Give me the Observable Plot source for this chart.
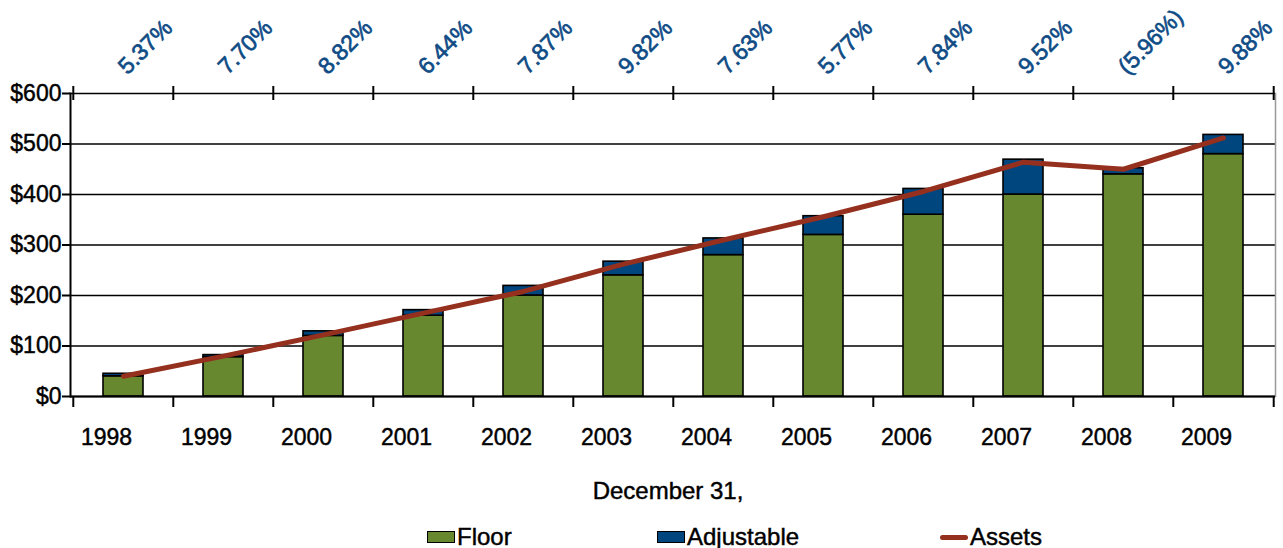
<!DOCTYPE html>
<html>
<head>
<meta charset="utf-8">
<script src="https://cdn.jsdelivr.net/npm/d3@7"></script>
<script src="https://cdn.jsdelivr.net/npm/@observablehq/plot@0.6"></script>
<style>
  html, body { margin: 0; padding: 0; background: #fff; }
  #wrap { position: relative; width: 1283px; height: 548px; font-family: "Liberation Sans", Arial, Helvetica, sans-serif; }
  #chart svg text { stroke: #000; stroke-width: 0.45px; paint-order: stroke; }
  #chart svg g.ret text { stroke: #0f4c86; stroke-width: 0.7px; }
  #xlabel { position: absolute; left: 0; width: 1336px; top: 477px; text-align: center; font-size: 24px; color: #000; -webkit-text-stroke: 0.45px #000; }
  .leg { position: absolute; top: 523px; font-size: 24px; color: #000; display: flex; align-items: center; -webkit-text-stroke: 0.45px #000; }
  .sw { display: inline-block; width: 26px; height: 10px; border: 1.5px solid #000; margin-right: 2px; }
  .ln { display: inline-block; width: 28px; height: 5px; border-radius: 3px; margin-right: 2px; }
</style>
</head>
<body>
<div id="wrap">
  <div id="chart"></div>
  <div id="xlabel">December 31,</div>
  <div id="legend"></div>
</div>
<script>
const years = ["1998","1999","2000","2001","2002","2003","2004","2005","2006","2007","2008","2009"];
const floorVals = [40, 78, 120, 160, 200, 240, 280, 320, 360, 400, 440, 480];
const adjustableVals = [5, 4, 9, 11, 19, 27, 33, 37, 51, 69, 12, 38];
const assetsVals = [40, 80, 122, 165, 208, 262, 310, 356, 406, 464, 450, 512];
const returnLabels = ["5.37%","7.70%","8.82%","6.44%","7.87%","9.82%","7.63%","5.77%","7.84%","9.52%","(5.96%)","9.88%"];
const yTicks = [0, 100, 200, 300, 400, 500, 600];
const seriesNames = ["Floor", "Adjustable"];
const seriesColors = ["#68882f", "#00467e"];
const lineColor = "#952f1e";
const retColor = "#0f4c86";

const rows = [
  ...years.map((y, i) => ({year: y, series: "Floor", value: floorVals[i]})),
  ...years.map((y, i) => ({year: y, series: "Adjustable", value: adjustableVals[i]}))
];
const assets = years.map((y, i) => ({year: y, value: assetsVals[i]}));
const rets = years.map((y, i) => ({year: y, label: returnLabels[i]}));

const W = 1283, mL = 70, mR = 8;
const step = (W - mL - mR) / years.length;
const font = "Liberation Sans, Arial, Helvetica, sans-serif";

const chart = Plot.plot({
  width: W,
  height: 470,
  marginLeft: mL,
  marginRight: mR,
  marginTop: 93,
  marginBottom: 74,
  style: {fontFamily: font, fontSize: "23px", color: "#000", background: "#fff"},
  x: {domain: years, paddingInner: 0.6, paddingOuter: 0.3, label: null},
  y: {domain: [0, 600], label: null},
  color: {domain: seriesNames, range: seriesColors},
  marks: [
    Plot.gridY(yTicks, {stroke: "#000", strokeOpacity: 1, strokeWidth: 1.6}),
    Plot.frame({anchor: "right", stroke: "#999", strokeWidth: 1.5}),
    Plot.barY(rows, {x: "year", y: "value", fill: "series", stroke: "#000", strokeWidth: 1.6}),
    Plot.line(assets, {x: "year", y: "value", stroke: lineColor, strokeWidth: 5, strokeLinecap: "round", strokeLinejoin: "round"}),
    Plot.ruleY([0], {stroke: "#000", strokeWidth: 2}),
    Plot.frame({anchor: "left", stroke: "#000", strokeWidth: 2}),
    // boundary ticks (bottom)
    Plot.ruleX(years, {x: d => d, y1: 0, y2: 0, dx: -step / 2, insetBottom: -11, stroke: "#000", strokeWidth: 2}),
    Plot.ruleX(years.slice(-1), {x: d => d, y1: 0, y2: 0, dx: step / 2, insetBottom: -11, stroke: "#000", strokeWidth: 2}),
    // boundary ticks (top)
    Plot.ruleX(years, {x: d => d, y1: 600, y2: 600, dx: -step / 2, insetTop: -7, insetBottom: -7, stroke: "#000", strokeWidth: 2}),
    Plot.ruleX(years.slice(-1), {x: d => d, y1: 600, y2: 600, dx: step / 2, insetTop: -7, insetBottom: -7, stroke: "#000", strokeWidth: 2}),
    Plot.axisY(yTicks, {tickFormat: d => "$" + d, tickSize: 8, tickPadding: 1, stroke: "#000", strokeWidth: 2, fontSize: 23, fill: "#000"}),
    Plot.axisX({tickSize: 0, tickPadding: 32, dx: -17, fontSize: 23, fill: "#000"}),
    Plot.text(rets, {x: "year", y: () => 600, text: "label", rotate: -45, textAnchor: "start", lineAnchor: "bottom", dx: 4, dy: -18, fill: retColor, fontSize: 23, className: "ret"})
  ]
});
document.getElementById("chart").appendChild(chart);

const legendItems = [
  {name: "Floor", kind: "rect", color: seriesColors[0], left: 427},
  {name: "Adjustable", kind: "rect", color: seriesColors[1], left: 657},
  {name: "Assets", kind: "line", color: lineColor, left: 940}
];
const lg = document.getElementById("legend");
for (const it of legendItems) {
  const d = document.createElement("div");
  d.className = "leg";
  d.style.left = it.left + "px";
  const s = document.createElement("span");
  s.className = it.kind === "rect" ? "sw" : "ln";
  s.style.background = it.color;
  d.appendChild(s);
  d.appendChild(document.createTextNode(it.name));
  lg.appendChild(d);
}
</script>
</body>
</html>
